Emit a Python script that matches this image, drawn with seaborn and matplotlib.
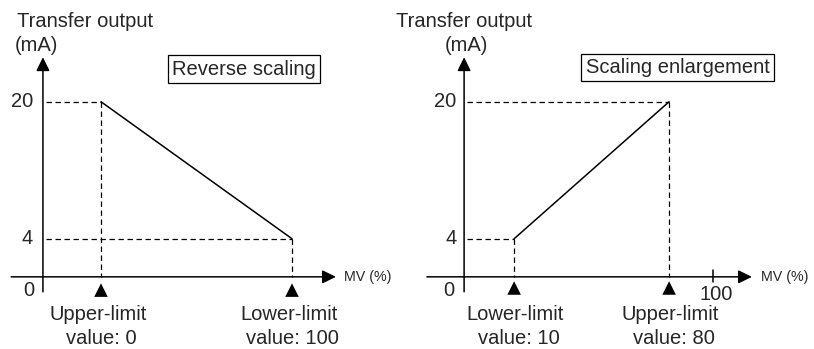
import matplotlib
matplotlib.use('Agg')
import matplotlib.pyplot as plt
import seaborn as sns

# data
left_mv = [0, 100]
left_ma = [20, 4]
left_limit_labels = ['Upper-limit\nvalue: 0', 'Lower-limit\nvalue: 100']
left_title = 'Reverse scaling'

right_mv = [10, 80]
right_ma = [4, 20]
right_limit_labels = ['Lower-limit\nvalue: 10', 'Upper-limit\nvalue: 80']
right_title = 'Scaling enlargement'

y_ticks = [20, 4]

sns.set_style('white')
plt.rcParams['font.family'] = ['Liberation Sans', 'DejaVu Sans']
FS = 14.5

fig = plt.figure(figsize=(8.14, 3.49), dpi=100)
ax1 = fig.add_axes([0, 0, 0.5, 1])
ax2 = fig.add_axes([0.5, 0, 0.5, 1])

dash = (0, (4.3, 2.9))
arrow = dict(arrowstyle='-|>,head_length=0.55,head_width=0.27', lw=1.1,
             color='black', mutation_scale=15, shrinkA=0, shrinkB=0)


def draw_panel(ax, mv, ma, labels, title, xlim, yaxis_x, xaxis_start, xaxis_end,
               title_x, title_y, tick_right, zero_x, lab_dx, ylab_x, mA_x, mA_ha, tri_y):
    ax.set_xlim(*xlim)
    ax.set_ylim(-8.876, 31.88)
    ax.axis('off')
    y0 = -0.45
    # axes with arrows
    ax.annotate('', xy=(xaxis_end, y0), xytext=(xaxis_start, y0), arrowprops=arrow)
    ax.annotate('', xy=(yaxis_x, 25.2), xytext=(yaxis_x, -2.2), arrowprops=arrow)
    # dashed guides
    for x, y in zip(mv, ma):
        ax.plot([yaxis_x + 1.5, x], [y, y], color='black', lw=0.9, linestyle=dash)
        ax.plot([x, x], [y, y0], color='black', lw=0.9, linestyle=dash)
    # transfer line
    sns.lineplot(x=mv, y=ma, ax=ax, color='black', lw=1.1, legend=False)
    # limit markers
    sns.scatterplot(x=mv, y=[tri_y] * len(mv), ax=ax, marker='^', s=95,
                    color='black', edgecolor='none', legend=False)
    for x, lab in zip(mv, labels):
        top, bot = lab.split('\n')
        ax.text(x + lab_dx, -4.85, top, ha='center', va='center', fontsize=FS)
        ax.text(x + lab_dx + 1.5, -7.6, bot, ha='center', va='center', fontsize=FS)
    # tick labels
    for y in y_ticks:
        ax.text(tick_right, y, str(y), ha='right', va='center', fontsize=FS)
    ax.text(zero_x, -2.0, '0', ha='center', va='center', fontsize=FS)
    ax.text(xaxis_end + 4.0, y0, 'MV (%)', ha='left', va='center', fontsize=10.3)
    # axis title
    ax.text(ylab_x, 28.7, 'Transfer output', ha='left', va='baseline', fontsize=FS)
    ax.text(mA_x, 25.9, '(mA)', ha=mA_ha, va='baseline', fontsize=FS)
    ax.text(title_x, title_y, title, ha='center', va='center', fontsize=FS,
            bbox=dict(boxstyle='square,pad=0.22', fc='white', ec='black', lw=0.9))


draw_panel(ax1, left_mv, left_ma, left_limit_labels, left_title,
           xlim=(-52.88, 160.21), yaxis_x=-30.4, xaxis_start=-47, xaxis_end=123,
           title_x=74.9, title_y=23.8, tick_right=-35.5, zero_x=-37.7, lab_dx=-1.5,
           ylab_x=-44, mA_x=-45, mA_ha='left', tri_y=-2.0)

draw_panel(ax2, right_mv, right_ma, right_limit_labels, right_title,
           xlim=(-38.39, 145.44), yaxis_x=-12.6, xaxis_start=-29.4, xaxis_end=117.4,
           title_x=83.8, title_y=24.0, tick_right=-16.0, zero_x=-19.4, lab_dx=0.5,
           ylab_x=-43.4, mA_x=-11.7, mA_ha='center', tri_y=-1.75)

# 100 tick on right panel
ax2.plot([100, 100], [0.35, -1.0], color='black', lw=1.1)
ax2.text(101.2, -2.5, '100', ha='center', va='center', fontsize=FS)

fig.savefig('out.png', dpi=100)
